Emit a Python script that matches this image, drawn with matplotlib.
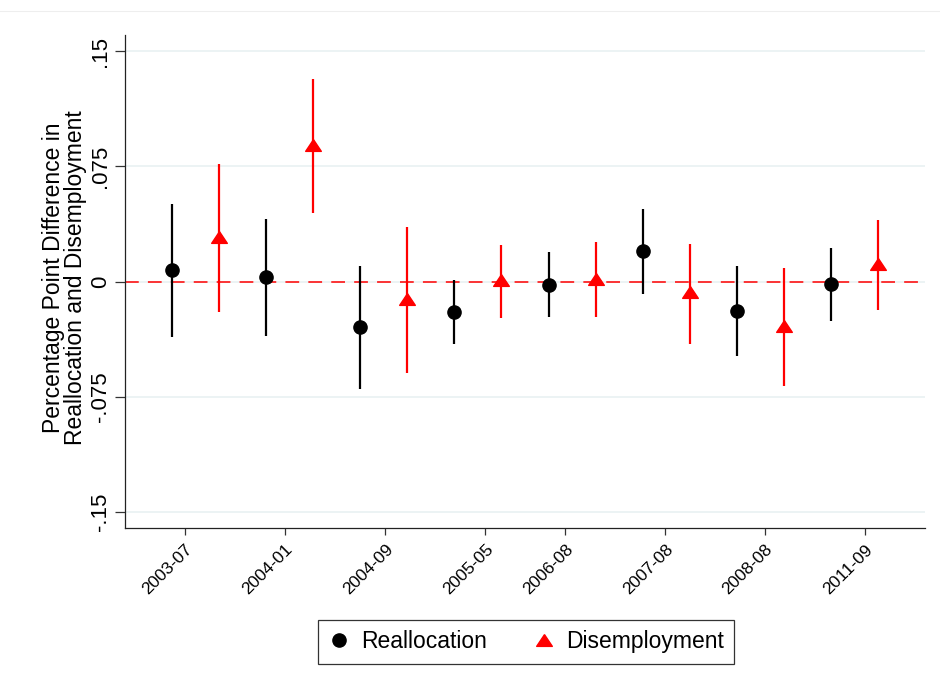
import matplotlib
matplotlib.use("Agg")
import matplotlib.pyplot as plt
from matplotlib.lines import Line2D

plt.rcParams['font.family'] = ['Liberation Sans', 'DejaVu Sans']

# survey waves (tick labels)
waves = ["2003-07", "2004-01", "2004-09", "2005-05",
         "2006-08", "2007-08", "2008-08", "2011-09"]
tick_pos = [1.27, 3.40, 5.53, 7.66, 9.36, 11.48, 13.60, 15.72]

# point estimates and confidence bounds
realloc_x = [1, 3, 5, 7, 9, 11, 13, 15]
realloc = [0.0076, 0.0028, -0.0298, -0.0200, -0.0020, 0.0198, -0.0194, -0.0015]
realloc_hi = [0.0502, 0.0409, 0.0100, 0.0011, 0.0191, 0.0474, 0.0098, 0.0220]
realloc_lo = [-0.0359, -0.0352, -0.0700, -0.0407, -0.0228, -0.0080, -0.0487, -0.0254]

disemp_x = [2, 4, 6, 8, 10, 12, 14, 16]
disemp = [0.0293, 0.0891, -0.0113, 0.0011, 0.0017, -0.0070, -0.0287, 0.0115]
disemp_hi = [0.0768, 0.1322, 0.0354, 0.0241, 0.0257, 0.0246, 0.0089, 0.0402]
disemp_lo = [-0.0200, 0.0446, -0.0598, -0.0237, -0.0233, -0.0406, -0.0678, -0.0183]

yticks = [-0.15, -0.075, 0, 0.075, 0.15]
ytick_labels = ["-.15", "-.075", "0", ".075", ".15"]

# Stata-like triangle: wider than tall
tri = [(0, 0.75), (-1, -0.75), (1, -0.75), (0, 0.75)]

fig = plt.figure(figsize=(9.4, 6.9), dpi=100)
ax = fig.add_axes([0.133, 0.235, 0.851, 0.714])

# faint outer border line at the top, as in the original export
fig.add_artist(Line2D([0, 1], [0.984, 0.984], transform=fig.transFigure,
                      color='#eeeeee', lw=0.8))

for yv in yticks:
    ax.axhline(yv, color='#eaf2f3', lw=1.3, zorder=0)
ax.axhline(0, color='#ff0000', lw=1.1, ls=(0, (9, 6)), zorder=1)

ax.vlines(realloc_x, realloc_lo, realloc_hi, color='black', lw=1.6, zorder=2)
ax.plot(realloc_x, realloc, 'o', color='black', ms=9.5, zorder=3,
        label='Reallocation')
ax.vlines(disemp_x, disemp_lo, disemp_hi, color='#ff0000', lw=1.6, zorder=2)
ax.plot(disemp_x, disemp, marker=tri, ls='none', color='#ff0000', ms=11.3,
        zorder=3, label='Disemployment')

ax.set_xlim(0, 17)
ax.set_ylim(-0.1605, 0.1605)

ax.set_xticks(tick_pos)
ax.set_xticklabels(waves, rotation=45, ha='right', va='top',
                   rotation_mode='anchor', fontsize=12.5)
ax.set_yticks(yticks)
ax.set_yticklabels(ytick_labels, rotation=90, va='center', fontsize=16)
ax.tick_params(axis='x', length=5, width=0.9, color='#333333', pad=5)
ax.tick_params(axis='y', length=7, width=0.9, color='#333333', pad=3)

for side in ['top', 'right']:
    ax.spines[side].set_visible(False)
for side in ['left', 'bottom']:
    ax.spines[side].set_linewidth(0.9)
    ax.spines[side].set_color('#222222')

ax.set_ylabel("Percentage Point Difference in\nReallocation and Disemployment",
              fontsize=16.5, linespacing=0.92)
ax.yaxis.set_label_coords(-0.048, 0.508)

leg = fig.legend(loc='center', bbox_to_anchor=(0.5596, 0.0696), ncol=2,
                 fontsize=16.5, frameon=True, fancybox=False,
                 edgecolor='black', borderpad=0.45, handletextpad=0.45,
                 columnspacing=2.0, handlelength=1.0, markerscale=1.0)
leg.get_frame().set_linewidth(0.9)

fig.savefig("out.png", dpi=100, facecolor='white')
